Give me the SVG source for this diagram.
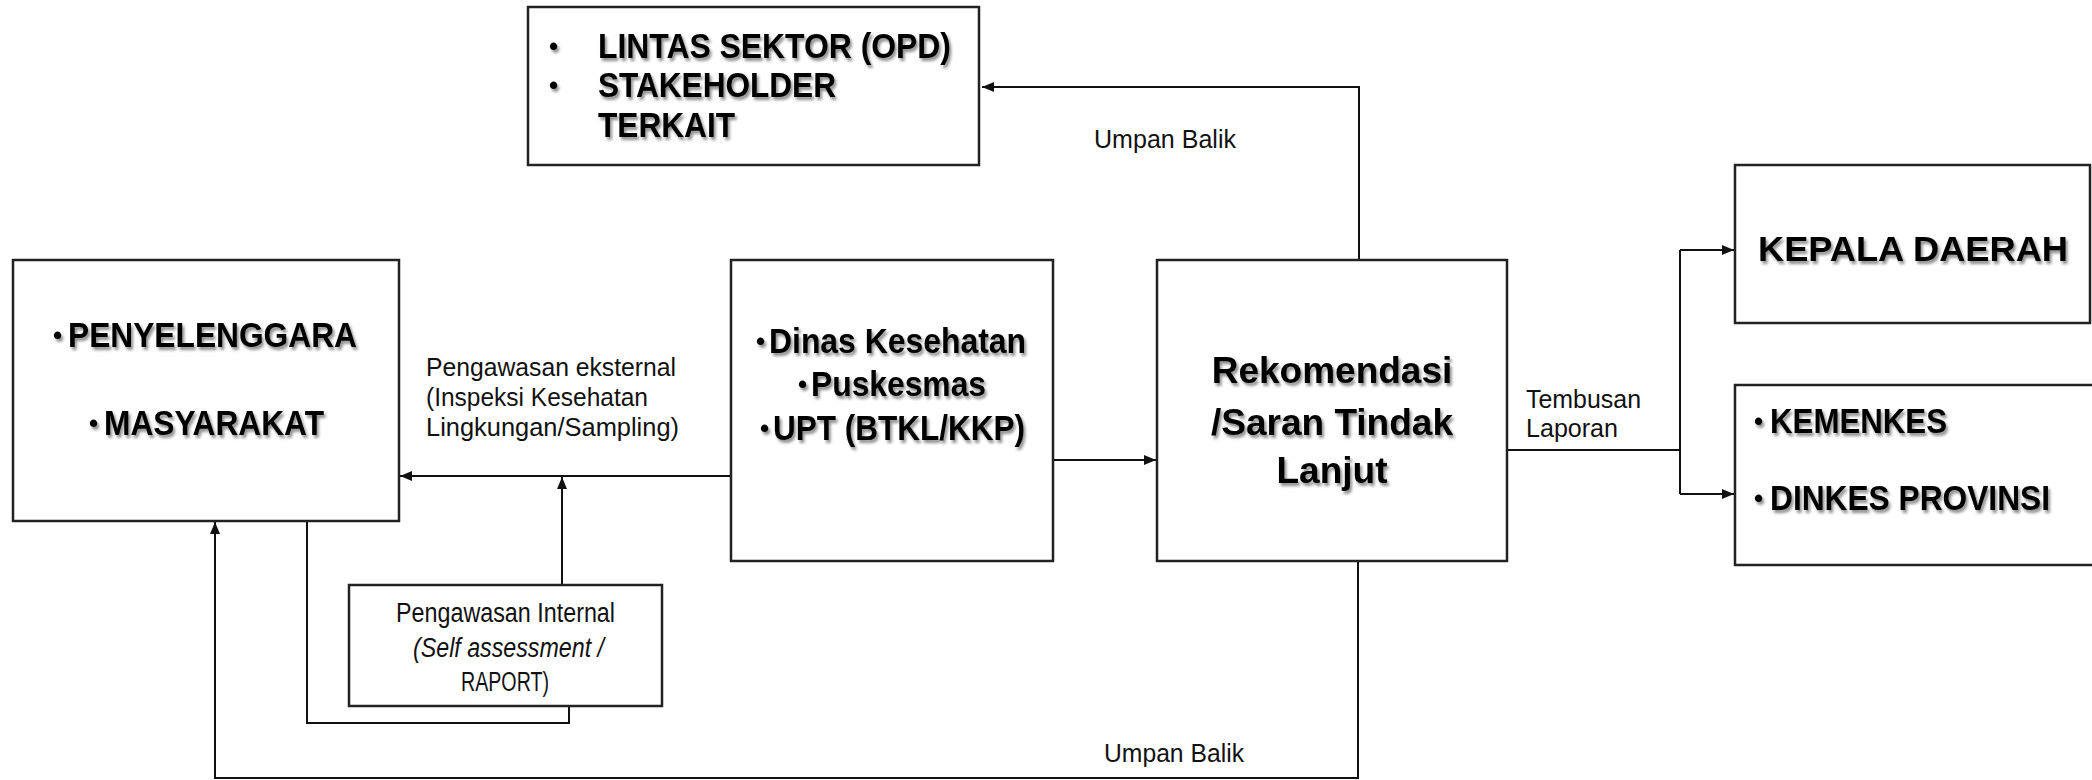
<svg xmlns="http://www.w3.org/2000/svg" width="2092" height="780" viewBox="0 0 2092 780">
<defs>
<style>
.box{fill:#fff;stroke:#222;stroke-width:2.5}
.ln{fill:none;stroke:#111;stroke-width:2}
.b{font-family:"Liberation Sans",Arial,sans-serif;font-weight:bold;fill:#000}
.r{font-family:"Liberation Sans",Arial,sans-serif;font-size:26.5px;fill:#111}
.big{font-size:35px}
.rek{font-size:37px}
.bul{font-size:26px}
.sh{filter:url(#shadow)}
</style>
<filter id="shadow" x="-10%" y="-30%" width="120%" height="170%">
<feGaussianBlur in="SourceAlpha" stdDeviation="1.8" result="bl"/>
<feOffset in="bl" dx="2" dy="3" result="of"/>
<feComponentTransfer in="of" result="sf"><feFuncA type="linear" slope="0.45"/></feComponentTransfer>
<feMerge><feMergeNode in="sf"/><feMergeNode in="SourceGraphic"/></feMerge>
</filter>
<marker id="arr" viewBox="0 0 12 10" refX="12" refY="5" markerWidth="12" markerHeight="10" markerUnits="userSpaceOnUse" orient="auto">
<path d="M0,0 L12,5 L0,10 z" fill="#111"/>
</marker>
</defs>
<rect width="2092" height="780" fill="#fff"/>

<g id="connectors">
<path class="ln" d="M1359,260 V87 H982" marker-end="url(#arr)"/>
<path class="ln" d="M731,476 H400" marker-end="url(#arr)"/>
<path class="ln" d="M562,585 V477" marker-end="url(#arr)"/>
<path class="ln" d="M307,521 V723 H569 V706"/>
<path class="ln" d="M1053,460 H1156" marker-end="url(#arr)"/>
<path class="ln" d="M1358,561 V778 H215 V522" marker-end="url(#arr)"/>
<path class="ln" d="M1507,450 H1680"/>
<path class="ln" d="M1680,250 V494"/>
<path class="ln" d="M1680,250 H1734" marker-end="url(#arr)"/>
<path class="ln" d="M1680,494 H1734" marker-end="url(#arr)"/>
<text class="r" x="1094" y="148" textLength="142" lengthAdjust="spacingAndGlyphs">Umpan Balik</text>
<text class="r" x="1104" y="762" textLength="140" lengthAdjust="spacingAndGlyphs">Umpan Balik</text>
<text class="r" x="426" y="376" textLength="250" lengthAdjust="spacingAndGlyphs">Pengawasan eksternal</text>
<text class="r" x="426" y="406" textLength="222" lengthAdjust="spacingAndGlyphs">(Inspeksi Kesehatan</text>
<text class="r" x="426" y="436" textLength="253" lengthAdjust="spacingAndGlyphs">Lingkungan/Sampling)</text>
<text class="r" x="1526" y="408" textLength="115" lengthAdjust="spacingAndGlyphs">Tembusan</text>
<text class="r" x="1526" y="437" textLength="92" lengthAdjust="spacingAndGlyphs">Laporan</text>
</g>

<g id="lintas">
<rect class="box" x="528" y="7" width="451" height="158"/>
<g class="b big sh">
<text class="bul" x="549" y="55">•</text>
<text x="598" y="58" textLength="353" lengthAdjust="spacingAndGlyphs">LINTAS SEKTOR (OPD)</text>
<text class="bul" x="549" y="94">•</text>
<text x="598" y="97" textLength="238" lengthAdjust="spacingAndGlyphs">STAKEHOLDER</text>
<text x="598" y="137" textLength="137" lengthAdjust="spacingAndGlyphs">TERKAIT</text>
</g>
</g>

<g id="penyelenggara">
<rect class="box" x="13" y="260" width="386" height="261"/>
<g class="b big sh">
<text class="bul" x="53" y="344">•</text>
<text x="68" y="347" textLength="289" lengthAdjust="spacingAndGlyphs">PENYELENGGARA</text>
<text class="bul" x="89" y="432">•</text>
<text x="104" y="435" textLength="220" lengthAdjust="spacingAndGlyphs">MASYARAKAT</text>
</g>
</g>

<g id="dinas">
<rect class="box" x="731" y="260" width="322" height="301"/>
<g class="b big sh">
<text class="bul" x="756" y="350">•</text>
<text x="769" y="353" textLength="257" lengthAdjust="spacingAndGlyphs">Dinas Kesehatan</text>
<text class="bul" x="798" y="393">•</text>
<text x="811" y="396" textLength="175" lengthAdjust="spacingAndGlyphs">Puskesmas</text>
<text class="bul" x="760" y="437">•</text>
<text x="773" y="440" textLength="252" lengthAdjust="spacingAndGlyphs">UPT (BTKL/KKP)</text>
</g>
</g>

<g id="rekomendasi">
<rect class="box" x="1157" y="260" width="350" height="301"/>
<g class="b rek sh" text-anchor="middle">
<text x="1332" y="383">Rekomendasi</text>
<text x="1332" y="435">/Saran Tindak</text>
<text x="1332" y="483">Lanjut</text>
</g>
</g>

<g id="internal">
<rect class="box" x="349" y="585" width="313" height="121"/>
<g class="r" text-anchor="middle" style="font-size:27px">
<text x="505.5" y="622" textLength="219" lengthAdjust="spacingAndGlyphs">Pengawasan Internal</text>
<text x="508.5" y="657" font-style="italic" textLength="191" lengthAdjust="spacingAndGlyphs">(Self assessment /</text>
<text x="505" y="691" textLength="88" lengthAdjust="spacingAndGlyphs">RAPORT)</text>
</g>
</g>

<g id="kepala">
<rect class="box" x="1735" y="165" width="355" height="158"/>
<text class="b big sh" x="1758" y="261" textLength="310" lengthAdjust="spacingAndGlyphs">KEPALA DAERAH</text>
</g>

<g id="kemenkes">
<rect class="box" x="1735" y="385" width="370" height="180"/>
<g class="b big sh">
<text class="bul" x="1754" y="430">•</text>
<text x="1770" y="433" textLength="177" lengthAdjust="spacingAndGlyphs">KEMENKES</text>
<text class="bul" x="1754" y="507">•</text>
<text x="1770" y="510" textLength="280" lengthAdjust="spacingAndGlyphs">DINKES PROVINSI</text>
</g>
</g>
</svg>
